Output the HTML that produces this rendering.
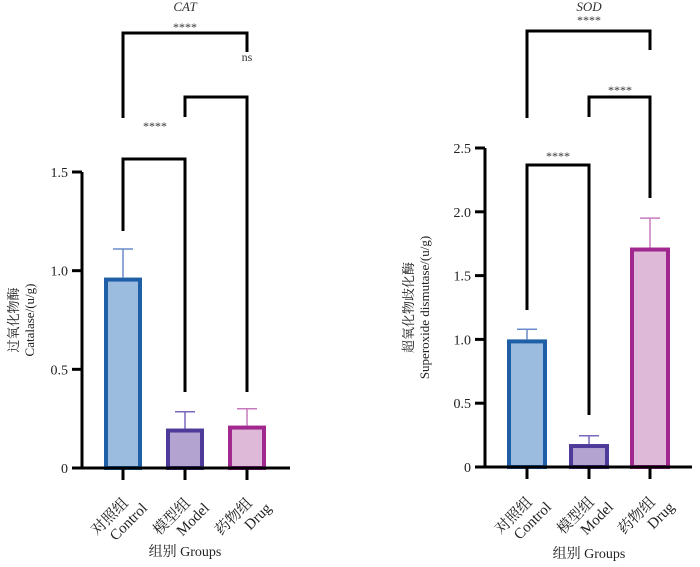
<!DOCTYPE html>
<html><head><meta charset="utf-8"><style>
body{margin:0;background:#fff}
svg, svg text{font-family:"Liberation Serif","Times New Roman","DejaVu Serif","Noto Serif CJK SC",serif}
</style></head><body>
<svg id="c" width="700" height="562" viewBox="0 0 700 562"></svg>
<script>
const categories=["对照组|Control","模型组|Model","药物组|Drug"];
const catValues=[0.965,0.2,0.215];
const catErrors=[0.145,0.085,0.085];
const catTicks=[0,0.5,1.0,1.5];
const catTickLabels=["0","0.5","1.0","1.5"];
const sodValues=[1.0,0.18,1.72];
const sodErrors=[0.08,0.065,0.23];
const sodTicks=[0,0.5,1.0,1.5,2.0,2.5];
const sodTickLabels=["0","0.5","1.0","1.5","2.0","2.5"];
const fills=["#9bbbdf","#b3a3d0","#dfb9d8"];
const strokes=["#1f5fa8","#4e3a98","#a0288f"];
const ebColors=["#6b8ccc","#7b68bd","#c77bbd"];
const svg=document.getElementById('c');
const NS="http://www.w3.org/2000/svg";
const FF='"Liberation Serif","Times New Roman","DejaVu Serif","Noto Serif CJK SC",serif';
function el(t,a,txt){const e=document.createElementNS(NS,t);for(const k in a)e.setAttribute(k,a[k]);if(t==='text')e.setAttribute('font-family',FF);if(txt!==undefined)e.textContent=txt;svg.appendChild(e);return e;}
function panel(o){
  const y=v=>o.y0-(v/o.max)*(o.y0-o.yTop);
  const x=i=>o.cx[i];
  const t=el('text',{x:o.cx[1],y:11,'text-anchor':'middle','font-size':13,'font-style':'italic',fill:'#333'},o.title);
  
  
  o.vals.forEach((v,i)=>{
    const hw=o.bw/2;
    const b=el('rect',{x:x(i)-hw+2,y:y(v)+2,width:o.bw-4,height:o.y0-y(v)-2,fill:fills[i],stroke:strokes[i],'stroke-width':4});
    
    
    const e=el('path',{d:`M${x(i)} ${y(v)} V${y(v+o.errs[i])} M${x(i)-10} ${y(v+o.errs[i])} H${x(i)+10}`,stroke:ebColors[i],'stroke-width':1.5,fill:'none'});
    
    
    const tk=el('line',{x1:x(i),x2:x(i),y1:o.y0,y2:o.y0+12,stroke:'#000','stroke-width':3});
    
    
    const parts=categories[i].split('|');
    const lb=el('text',{transform:`translate(${x(i)+6},${o.y0+36}) rotate(-45)`,'text-anchor':'end','font-size':15,fill:'#222'});
    
    
    const s1=document.createElementNS(NS,'tspan');s1.setAttribute('x',0);s1.setAttribute('dy',0);s1.textContent=parts[0];lb.appendChild(s1);
    const s2=document.createElementNS(NS,'tspan');s2.setAttribute('x',10);s2.setAttribute('dy',17);s2.textContent=parts[1];lb.appendChild(s2);
  });
  const ax=el('path',{d:`M${o.ax} ${o.yTop} V${o.y0} H${o.xEnd}`,stroke:'#000','stroke-width':3,fill:'none'});
  
  
  o.ticks.forEach((v,i)=>{
    const l=el('line',{x1:o.ax-10,x2:o.ax,y1:y(v),y2:y(v),stroke:'#000','stroke-width':3});
    
    
    const tl=el('text',{x:o.ax-14,y:y(v)+5,'text-anchor':'end','font-size':14,fill:'#222'},o.tickLabels[i]);
    
    
  });
  const yl=el('text',{transform:`translate(${o.ylx},${(o.y0+o.yTop)/2}) rotate(-90)`,'text-anchor':'middle','font-size':13,fill:'#222'});
  
  
  const a=document.createElementNS(NS,'tspan');a.setAttribute('x',0);a.textContent=o.yl1;yl.appendChild(a);
  const b2=document.createElementNS(NS,'tspan');b2.setAttribute('x',0);b2.setAttribute('dy',16);b2.textContent=o.yl2;yl.appendChild(b2);
  const xt=el('text',{x:o.cx[1],y:o.xty,'text-anchor':'middle','font-size':14,fill:'#222'},'组别 Groups');
  
  
  o.brackets.forEach((br,k)=>{
    const [i,j,top,l,r,lab,lx,ly]=br;
    const p=el('path',{d:`M${x(i)} ${l} V${top} H${x(j)} V${r}`,stroke:'#000','stroke-width':3,fill:'none'});
    
    
    const tt=el('text',{x:lx,y:ly,'text-anchor':'middle','font-size':12,fill:'#333'},lab);
    
    
  });
}
panel({key:'cat',title:'CAT',vals:catValues,errs:catErrors,ticks:catTicks,tickLabels:catTickLabels,max:1.5,y0:468,yTop:172,ax:82,xEnd:290,cx:[123,185,247],bw:38,ylx:18,yl1:'过氧化物酶',yl2:'Catalase/(u/g)',xty:556,
 brackets:[[0,1,159,231,392,'****',155,130],[0,2,33,118,52,'****',185,31],[1,2,97,117,392,'ns',247,61]]});
panel({key:'sod',title:'SOD',vals:sodValues,errs:sodErrors,ticks:sodTicks,tickLabels:sodTickLabels,max:2.5,y0:467,yTop:148,ax:485,xEnd:692,cx:[527,589,650],bw:40,ylx:413,yl1:'超氧化物歧化酶',yl2:'Superoxide dismutase/(u/g)',xty:558,
 brackets:[[0,1,165,310,415,'****',558,160],[0,2,31,118,50,'****',589,24],[1,2,97,117,198,'****',620,94]]});
</script>
</body></html>
